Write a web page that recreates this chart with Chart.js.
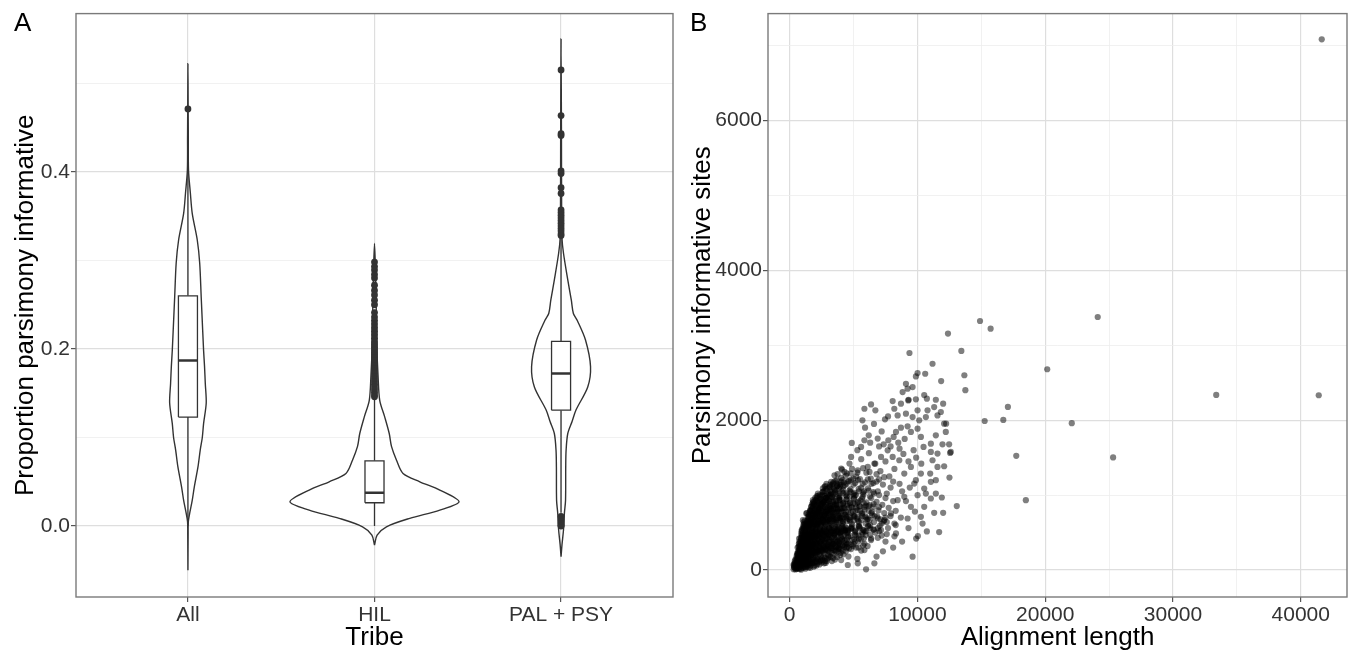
<!DOCTYPE html>
<html><head><meta charset="utf-8">
<script src="https://cdn.jsdelivr.net/npm/chart.js@4.4.1/dist/chart.umd.min.js"></script>
<style>
html,body{margin:0;padding:0;background:#fff;}
body{width:1351px;height:654px;position:relative;overflow:hidden;font-family:"Liberation Sans",Arial,sans-serif;}
canvas{position:absolute;top:0;}
#cA{left:0;} #cB{left:680px;}
.lab{position:absolute;font-size:26px;line-height:26px;color:#000;font-family:"Liberation Sans",Arial,sans-serif;}
</style></head><body>
<canvas id="cA" width="690" height="654"></canvas>
<canvas id="cB" width="671" height="654"></canvas>
<div class="lab" style="left:14px;top:9px">A</div>
<div class="lab" style="left:690px;top:9px">B</div>
<script>
// ---------------- Panel A data ----------------
const tribes = ['All', 'HIL', 'PAL + PSY'];

const violinAllY = [-0.050, -0.010, 0.005, 0.014, 0.029, 0.044, 0.067, 0.086, 0.100, 0.116, 0.139, 0.161, 0.180, 0.198, 0.240, 0.259, 0.297, 0.323, 0.353, 0.376, 0.402, 0.440, 0.480, 0.522];
const violinAllW = [0, 0.001, 0.002, 0.009, 0.023, 0.034, 0.054, 0.066, 0.077, 0.084, 0.098, 0.093, 0.089, 0.084, 0.075, 0.071, 0.063, 0.050, 0.023, 0.013, 0.003, 0.002, 0.001, 0];

const violinHilY = [-0.0214, -0.0102, -0.0008, 0.0087, 0.018, 0.0274, 0.0406, 0.050, 0.0594, 0.0744, 0.090, 0.1045, 0.123, 0.142, 0.170, 0.200, 0.250, 0.290, 0.319];
const violinHilW = [0, 0.014, 0.064, 0.189, 0.350, 0.453, 0.350, 0.243, 0.153, 0.118, 0.091, 0.079, 0.055, 0.028, 0.019, 0.013, 0.009, 0.005, 0];

const violinPalY = [-0.0346, -0.021, -0.0045, 0.0147, 0.029, 0.067, 0.0857, 0.1045, 0.118, 0.131, 0.157, 0.180, 0.210, 0.232, 0.240, 0.255, 0.278, 0.308, 0.325, 0.360, 0.450, 0.550];
const violinPalW = [0, 0.005, 0.013, 0.018, 0.024, 0.025, 0.027, 0.036, 0.059, 0.080, 0.143, 0.158, 0.131, 0.087, 0.066, 0.055, 0.036, 0.013, 0.005, 0.003, 0.002, 0];

const boxQ1 = [0.123, 0.0263, 0.1308];
const boxMedian = [0.187, 0.0376, 0.1722];
const boxQ3 = [0.260, 0.0737, 0.2086];
const whiskerLow = [0.0, 0.0, 0.015];
const whiskerHigh = [0.44, 0.144, 0.325];

const outliersAll = [0.471];
const outliersHil = [0.298, 0.293, 0.289, 0.284, 0.280, 0.272, 0.266, 0.261, 0.255, 0.250, 0.241, 0.236, 0.232, 0.228, 0.224, 0.220, 0.216, 0.212, 0.208, 0.205, 0.202, 0.199, 0.196, 0.193, 0.190, 0.187, 0.184, 0.181, 0.178, 0.175, 0.172, 0.169, 0.166, 0.163, 0.160, 0.157, 0.154, 0.151, 0.148, 0.146];
const outliersPal = [0.515, 0.4635, 0.443, 0.441, 0.401, 0.398, 0.382, 0.3755, 0.357, 0.354, 0.351, 0.348, 0.345, 0.342, 0.339, 0.336, 0.333, 0.330, 0.328, 0.011, 0.009, 0.007, 0.005, 0.003, 0.001, 0.0];

const yMajorA = [0, 0.2, 0.4];
const yMinorA = [0.1, 0.3, 0.5];

// ---------------- Panel B data: [alignment length, parsimony informative sites] ----------------
const coreGenes1 = [
[310,12],[380,35],[450,8],[520,48],[590,22],[660,55],[730,15],[810,40],[890,5],[960,62],[1040,28],[1130,50],[1230,18],[1350,70],[1480,35],[1650,60],[1880,45],[2150,85],[2500,100],[2900,120],
[420,95],[520,130],[610,105],[700,150],[790,88],[870,140],[950,110],[1040,160],[1130,120],[1220,155],[1330,100],[1450,145],[1570,115],[1700,165],[1850,130],[2000,170],[2200,140],[2450,180],[2750,160],[3100,190],[3500,210],[4000,230],[4600,180],[5300,150],[5980,10],
[550,190],[650,240],[760,200],[860,255],[960,215],[1060,260],[1160,195],[1270,245],[1380,210],[1500,262],[1620,225],[1750,270],[1880,230],[2020,280],[2170,240],[2330,290],[2500,250],[2680,300],[2870,260],[3080,310],[3300,270],[3550,320],[3800,280],[4100,330],[4450,290],[4800,340],[5200,300],[5600,260],[6100,320],
[720,350],[830,310],[940,370],[1050,320],[1160,380],[1270,330],[1390,390],[1510,340],[1640,395],[1770,350],[1910,400],[2060,355],[2210,410],[2370,360],[2540,415],[2720,370],[2900,420],[3090,375],[3290,430],[3500,385],[3720,440],[3950,395],[4200,450],[4460,400],[4750,455],[5050,410],[5400,460],[5800,420],[6300,470],[6900,430],[7500,380],
[910,430],[1020,490],[1130,440],[1250,500],[1370,450],[1490,510],[1620,460],[1760,520],[1900,470],[2050,530],[2200,480],[2360,540],[2520,490],[2690,545],[2870,500],[3060,555],[3250,505],[3450,560],[3660,515],[3880,570],[4110,520],[4350,575],[4600,525],[4870,580],[5150,530],[5450,585],[5780,535],[6150,590],[6550,540],[7000,520],[7600,480],[8200,450],
[1030,560],[1140,620],[1260,575],[1380,635],[1510,585],[1640,645],[1780,595],[1930,655],[2080,605],[2240,660],[2400,615],[2570,670],[2750,625],[2940,680],[3130,630],[3330,690],[3540,640],[3760,695],[3990,650],[4230,700],[4480,655],[4740,705],[5010,660],[5300,710],[5600,665],[5920,715],[6260,670],[6650,720],[7100,675],[7600,640],[8300,600],
[1430,710],[1560,770],[1700,720],[1850,780],[2000,730],[2160,790],[2330,740],[2500,800],[2680,750],[2870,810],[3060,760],[3260,815],[3470,765],[3690,820],[3920,770],[4160,825],[4410,775],[4670,830],[4940,780],[5220,835],[5520,785],[5840,840],[6180,790],[6550,845],[6950,795],[7400,760],[7900,720],
[1700,850],[1860,910],[2030,860],[2200,920],[2380,870],[2570,925],[2770,875],[2980,930],[3200,880],[3430,935],[3670,885],[3920,940],[4180,890],[4450,945],[4730,895],[5020,950],[5330,900],[5660,955],[6000,905],[6380,960],[6800,910],[7250,870],[7750,830],[8300,790],
[2110,985],[2500,995],[2710,1055],[2930,1005],[3160,1060],[3400,1010],[3650,1070],[3910,1020],[4180,1075],[4460,1025],[4760,1080],[5070,1030],[5400,1085],[5750,1035],[6130,1090],[6550,1040],[7000,1000],[7500,960],[8100,920],
[2790,1120],[3300,1130],[3570,1190],[3850,1140],[4150,1200],[4460,1150],[4790,1205],[5130,1160],[5500,1215],[5900,1170],[6350,1220],[6800,1180],[7300,1140],[7900,1100],
[3750,1280],[4100,1340],[4480,1290],[4880,1350],[5300,1300],[5750,1360],[6250,1310],[6800,1280],[7400,1240]
];
const coreGenes2 = [
[340,60],[480,45],[560,90],[640,70],[720,105],[800,75],[880,120],[970,85],[1070,130],[1180,95],[1300,140],[1430,105],[1560,150],[1700,115],[1860,160],[2030,125],[2220,170],[2430,135],[2660,180],[2910,150],[3200,175],[3550,140],[3950,200],[4400,250],
[580,220],[680,180],[790,235],[900,190],[1010,245],[1120,200],[1240,255],[1360,210],[1490,265],[1620,220],[1760,275],[1910,230],[2070,285],[2240,240],[2420,295],[2610,250],[2810,305],[3020,260],[3250,315],[3490,270],[3750,325],[4030,280],[4330,335],[4650,290],[5000,345],[5400,300],[5850,350],
[790,290],[900,345],[1010,300],[1130,355],[1250,310],[1380,365],[1510,320],[1650,375],[1800,330],[1960,385],[2120,340],[2290,395],[2470,350],[2660,405],[2860,360],[3070,415],[3290,370],[3520,425],[3760,380],[4020,435],[4290,390],[4580,445],[4890,400],[5220,455],[5570,410],[5950,465],[6380,420],
[890,410],[1000,465],[1120,420],[1240,475],[1370,430],[1500,485],[1640,440],[1790,495],[1940,450],[2100,505],[2270,460],[2450,515],[2630,470],[2830,525],[3030,480],[3250,535],[3470,490],[3710,545],[3960,500],[4220,555],[4500,510],[4790,565],[5100,520],[5430,575],[5780,530],[6160,585],[6580,540],[7050,590],
[990,520],[1100,580],[1220,535],[1350,595],[1480,550],[1620,610],[1770,565],[1920,625],[2080,580],[2250,640],[2420,595],[2610,655],[2800,610],[3000,670],[3210,625],[3430,685],[3660,640],[3900,700],[4150,655],[4420,715],[4700,670],[4990,730],[5300,685],[5640,745],[6000,700],[6400,760],[6850,715],
[1380,655],[1520,715],[1660,670],[1810,730],[1970,685],[2130,745],[2300,700],[2480,760],[2670,715],[2870,775],[3080,730],[3300,790],[3530,745],[3770,805],[4020,760],[4290,820],[4570,775],[4860,835],[5170,790],[5500,850],[5860,805],[6250,865],
[1650,795],[1810,855],[1980,810],[2160,870],[2340,825],[2540,885],[2740,840],[2950,900],[3170,855],[3400,915],[3640,870],[3890,930],[4150,885],[4430,945],[4720,900],[5030,960],[5360,915],[5710,975],
[2010,930],[2200,990],[2400,945],[2610,1005],[2830,960],[3060,1020],[3300,975],[3550,1035],[3810,990],[4080,1050],[4370,1000],[4680,1060],[5000,1015],
[2930,1085],[3170,1140],[3420,1100],[3680,1155],[3950,1115],[4240,1170]
];
const coreGenes3 = [
[400,120],[500,75],[600,150],[700,95],[800,170],[900,130],[1000,190],[1100,150],[1200,210],[1310,170],[1420,230],[1540,190],[1670,250],[1800,210],[1940,270],[2090,230],[2250,290],[2420,250],[2600,310],[2790,270],[2990,330],[3200,290],[3420,350],[3650,310],[3900,370],[4160,330],
[700,310],[810,270],[920,330],[1030,290],[1150,350],[1270,310],[1400,370],[1530,330],[1670,390],[1820,350],[1970,410],[2130,370],[2300,430],[2480,390],[2670,450],[2870,410],[3080,470],[3300,430],[3530,490],[3770,450],[4020,510],[4290,470],[4570,530],
[860,380],[970,450],[1080,395],[1200,465],[1320,410],[1450,480],[1590,425],[1730,495],[1880,440],[2040,510],[2200,455],[2380,525],[2560,470],[2750,540],[2950,485],[3160,555],[3380,500],[3610,570],[3850,515],[4100,585],[4370,530],
[1070,600],[1190,660],[1310,615],[1440,675],[1580,630],[1720,690],[1870,645],[2030,705],[2200,660],[2370,720],[2560,675],[2750,735],[2950,690],[3160,750],[3380,705],[3610,765],[3850,720],[4100,780],[4360,735],
[1570,735],[1720,795],[1880,750],[2040,810],[2210,765],[2390,825],[2580,780],[2780,840],[2990,795],[3210,855],[3440,810],[3680,870],[3930,825],
[1880,875],[2060,935],[2250,890],[2450,950],[2650,905],[2870,965],[3100,920],[3340,980]
];
const coreGenes4 = [
[360,85],[470,20],[590,58],[690,30],[760,78],[860,18],[930,92],[1010,45],[1110,85],[1190,40],[1280,98],[1400,55],[1520,88],[1610,30],[1760,95],[1940,60],[2080,110],[2330,75],[2600,130],[2820,95],[3300,120],[3700,175],
[620,205],[720,260],[830,215],[910,280],[1090,230],[1200,285],[1320,240],[1440,295],[1580,250],[1700,300],[1830,255],[1990,310],[2140,265],[2300,320],[2460,275],[2640,330],[2830,285],[3030,340],[3230,295],[3440,350],[3670,300],[3900,345],[4280,310],[4600,360],[4950,320],[5350,380],[5750,330],
[760,380],[850,430],[980,395],[1090,450],[1210,400],[1330,460],[1460,415],[1580,470],[1710,425],[1850,480],[2000,435],[2150,490],[2320,445],[2490,500],[2680,455],[2860,510],[3060,465],[3270,520],[3490,475],[3720,530],[3970,485],[4230,540],[4520,495],[4830,550],[5150,505],[5500,560],[5900,515],[6300,555],[6700,500],[7200,460],
[960,540],[1070,550],[1180,600],[1290,560],[1410,620],[1540,570],[1680,630],[1820,580],[1970,640],[2130,590],[2290,650],[2460,600],[2640,660],[2830,610],[3030,670],[3240,620],[3460,680],[3690,630],[3930,690],[4180,640],[4450,700],[4730,650],[5030,710],[5350,660],[5690,720],[6050,670],[6450,730],[6900,690],[7350,650],
[1480,740],[1620,790],[1770,745],[1930,800],[2090,755],[2270,815],[2450,770],[2640,830],[2840,785],[3050,845],[3270,800],[3500,860],[3740,815],[3990,875],[4260,830],[4540,880],[4830,840],[5140,880],[5460,850],[5800,890],[6170,850],[6580,880],[7000,840],
[1820,900],[1990,960],[2170,915],[2350,975],[2550,930],[2750,990],[2960,945],[3180,1000],[3420,955],[3660,1015],[3920,970],[4190,1030],[4470,985],[4770,1040],[5090,995],[5420,1050],[5780,1010],[6180,1060],[6600,1020],
[2600,1090],[2880,1150],[3140,1110],[3430,1170],[3720,1120],[4020,1180],[4330,1130],[4650,1190],[4990,1140],[5350,1200],[5720,1150],[6120,1210],[6550,1160],[7000,1210]
];
const coreGenes5 = [
[330,40],[430,70],[540,20],[620,110],[740,55],[840,100],[920,60],[1020,100],[1160,75],[1260,125],[1380,85],[1500,125],[1640,90],[1790,140],[1960,100],[2120,150],[2300,110],[2520,155],[2780,120],[3050,165],[3380,160],[3800,250],
[530,160],[640,200],[750,170],[850,215],[960,180],[1070,225],[1190,185],[1310,230],[1440,195],[1570,240],[1710,200],[1860,245],[2010,205],[2170,255],[2340,215],[2520,265],[2700,225],[2900,275],[3110,240],[3330,290],[3580,250],[3850,300],[4150,260],[4500,310],
[750,320],[870,290],[980,340],[1100,300],[1220,345],[1340,305],[1470,355],[1600,310],[1740,360],[1890,320],[2040,370],[2200,325],[2370,375],[2550,335],[2740,385],[2940,340],[3150,395],[3370,350],[3600,405],[3850,360],[4110,410],[4400,365],
[940,470],[1050,420],[1170,485],[1290,435],[1420,495],[1550,445],[1690,505],[1840,455],[1990,515],[2150,465],[2320,525],[2500,475],[2690,535],[2890,485],[3100,545],[3320,495],[3550,555],[3800,505],[4060,565],[4340,515],
[1120,560],[1240,620],[1360,580],[1490,640],[1630,595],[1780,655],[1940,610],[2100,670],[2280,625],[2460,685],[2660,640],[2860,700],[3080,655],[3300,715],[3540,670],[3790,730],[4050,685],
[1500,690],[1640,750],[1790,705],[1950,765],[2120,720],[2300,780],[2490,735],[2690,795],[2900,750],[3120,810],[3360,765],[3600,825],
[1760,820],[1920,880],[2090,835],[2270,895],[2460,850],[2660,910],[2870,865],[3090,925]
];
const coreGenes6 = [
[450,140],[560,110],[680,130],[770,230],[880,175],[990,260],[1050,200],[1150,310],[1230,270],[1340,180],[1410,330],[1470,250],[1560,380],[1630,300],[1690,430],[1780,330],[1850,520],[1920,380],[2000,590],[2060,440],[2150,620],[2230,500],[2290,710],[2380,560],[2450,440],[2530,640],[2600,520],[2690,720],[2760,580],[2850,470],[2920,650],[3010,760],[3080,560],[3150,680],[3240,820],[3310,600],[3390,720],[3470,520],[3560,880],[3630,660],[3720,780],[3800,580],[3890,940],[3960,700],[4050,820],[4140,620],[4230,900],[4320,740],[4410,560],[4500,860],[4600,680],[4700,980],[4790,760],[4880,610],[4980,890],[5080,720],[5190,1000],[5300,800],[5420,640],[5540,930],[5680,760],[5820,1050],[5960,860],[6120,680],[6280,980],[6450,780],
[620,300],[740,420],[860,320],[930,520],[1020,380],[1100,640],[1180,470],[1260,560],[1350,760],[1420,520],[1500,660],[1600,800],[1680,560],[1760,880],[1850,700],[1950,860],[2040,760],[2140,960],[2240,820],[2350,1000],[2460,880],[2580,1040],[2700,920],[2830,1080],[2960,970],[3100,1100],[3240,1020],[3390,1150],[3540,1060],[3700,1200],[3860,1090],[4030,1230],[4200,1120],[4390,1260],[4580,1180],[4780,1290],[4990,1220],
[300,70],[1300,40],[1500,70],[1800,90],[2100,60],[2400,120],[2700,90],[3000,200],[3300,230],[3600,260],[3900,280],[4200,210],[4500,350],[4800,280],[5100,380],[5400,420],[5700,480],[6000,520],[6300,600],[6600,640],[6900,560],[7200,620],[7500,700]
];
const coreGenes7 = [
[650,160],[720,270],[790,190],[860,330],[940,240],[1010,390],[1080,270],[1150,430],[1220,330],[1300,490],[1370,370],[1450,560],[1520,420],[1600,600],[1670,470],[1750,650],[1830,510],[1910,700],[1990,560],[2070,760],[2160,600],[2250,800],[2340,640],[2430,850],[2520,690],[2620,900],[2720,730],[2820,960],[2930,780],[3040,1000],[3150,830],[3260,1040],[3380,870],[3500,1080],[3620,920],[3740,1120],[3860,960],[3990,1140],
[1000,120],[1100,220],[1210,140],[1330,260],[1450,170],[1580,290],[1710,200],[1850,320],[1990,230],[2140,350],[2290,260],[2450,380],[2610,290],[2780,410],[2950,320],[3130,440],[3310,350],[3500,470],[3700,380],[3910,500],[4130,410],[4360,530],[4600,440],[4850,560],[5110,470],[5380,590],[5660,500],[5950,620]
];
const spreadGenes = [
[4862,1696],[4810,1510],[5590,1643],[5850,1732],[6188,1798],[6890,1754],[7358,1678],[7722,1732],[8138,1776],[8320,1843],[8710,1900],[9230,1918],[9490,1843],[10010,1887],[10270,1776],[10478,1643],[11050,1576],[11180,1465],[11570,1376],[10998,1288],[10270,1288],[9750,1154],[10010,999],[10660,1021],[11050,955],[11440,1021],[10530,844],[10270,710],[9230,688],[9490,844],[8970,977],[8450,932],[7930,755],[7410,666],[7150,533],[8320,488],[6370,400],[5850,266],[5330,89],[6630,89],[4550,67],[4030,133],
[9100,2486],[9230,2420],[9620,2442],[8840,2375],[9282,2264],[8710,2220],[8190,2153],[8450,2064],[9100,2087],[9620,2042],[10010,2131],[10140,1998],[10660,2042],[10790,2131],[11310,2175],[11570,2064],[11830,2109],[12090,1953],[12220,1843],[11440,1798],[11050,1687],[11570,1554],[11960,1678],[12480,1678],[12610,1576],[12090,1385],[11440,1199],[11050,1177],[10530,1088],[9880,1199],[9490,1376],[8970,1288],[8580,1465],[8060,1510],[7670,1598],[7150,1510],[6630,1421],[6110,1376],[5330,1332],[4680,1421],[4290,1310],[4030,1354],[3510,1265],[3250,1177],[2730,1110],[2600,1044],[2210,1021],[1820,932],[1690,844],[1300,755],[1040,666],[910,488],[780,355],[650,222],
[5850,2153],[6370,2211],[6708,2131],[5694,1998],[7462,2011],[8060,2255],
[9620,178],[10036,453],[10738,515],[11700,506],[12012,764],[11310,764],[11908,968],[12506,1234],[12558,1563],[12246,1954],[12012,2220],[11440,2273],[10738,2287],[10530,2335],[9880,2278],[9308,2273],[10010,2629],[9880,2584],[10608,2620],[11180,2753],[11856,2522],[9375,2897],[13078,853],
[5200,1250],[5600,1100],[6000,1300],[6400,1150],[6700,1420],[7100,1320],[7500,1450],[7800,1250],[8200,1350],[8600,1150],[8900,1550],[9300,1450],[9700,1600],[6900,1050],[7600,1020],[8100,1180],[8800,1050],[9400,1100],[5600,1480],[6200,1560],[7000,1650],[7900,1650],[8500,1700],[9000,1750],[6300,1700],[5300,1600],[5900,1900],[6600,1950],[7200,1850],[7700,2050],[8600,1620],[9900,1500],[10300,1420],[9100,920],[9800,780],[8700,700],[8200,620],[7700,560],[9300,560],[8800,380],[8100,300],[7300,250],[6800,180],[10400,620],[9900,420]
];
const outlierGenes = [
[14898,3324],[15727,3222],[12390,3156],[13437,2924],[13750,2400],[13672,2600],[15262,1989],[16719,2004],[17078,2177],[17734,1524],[18484,933],[20156,2680],[22078,1960],[24109,3377],[25313,1503],[33383,2337],[41406,2333],[41641,7084]
];

const xMajorB = [0, 10000, 20000, 30000, 40000];
const xMinorB = [5000, 15000, 25000, 35000];
const yMajorB = [0, 2000, 4000, 6000];
const yMinorB = [1000, 3000, 5000, 7000];

// ---------------- helpers ----------------
const FONT = '"Liberation Sans", Arial, sans-serif';
const BOX_HALF = 0.051;

const framePlugin = {
  id: 'frame',
  afterDraw(chart) {
    const { ctx, chartArea: a } = chart;
    ctx.save();
    ctx.strokeStyle = '#7a7a7a';
    ctx.lineWidth = 1.4;
    ctx.strokeRect(a.left, a.top, a.right - a.left, a.bottom - a.top);
    ctx.restore();
  }
};

function axis(opts) {
  const all = opts.major.concat(opts.minor).sort((a, b) => a - b);
  const isMajor = (ctx) => ctx.tick && opts.major.includes(ctx.tick.value);
  return {
    type: 'linear',
    min: opts.min, max: opts.max,
    afterBuildTicks: (s) => { s.ticks = all.map(v => ({ value: v })); },
    afterFit: (s) => { if (opts.width !== undefined) s.width = opts.width; if (opts.height !== undefined) s.height = opts.height; },
    border: { display: false },
    grid: {
      drawOnChartArea: true, drawTicks: true, tickLength: 5,
      color: (c) => isMajor(c) ? '#dedede' : '#ededed',
      lineWidth: (c) => isMajor(c) ? 1.2 : 0.8,
      tickColor: (c) => isMajor(c) ? '#555' : 'rgba(0,0,0,0)',
      tickWidth: 1.2
    },
    ticks: {
      autoSkip: false, maxRotation: 0, minRotation: 0, padding: opts.tickPad,
      color: '#333', font: { family: FONT, size: 21 },
      callback: (v) => opts.major.includes(v) ? opts.fmt(v) : ''
    },
    title: {
      display: true, text: opts.title, color: '#000',
      font: { family: FONT, size: 26 },
      padding: opts.titlePad
    }
  };
}

// ---------------- Panel A datasets ----------------
function violinPath(c, ys, ws) {
  const right = ys.map((y, i) => ({ x: c + ws[i], y }));
  const left = ys.map((y, i) => ({ x: c - ws[i], y })).reverse();
  return right.concat(left.slice(1));
}
const lineDs = (data, width, order) => ({
  data, showLine: true, borderColor: '#333', borderWidth: width, pointRadius: 0, fill: false, tension: 0, order
});

const dsA = [];
const violins = [[violinAllY, violinAllW], [violinHilY, violinHilW], [violinPalY, violinPalW]];
violins.forEach(([ys, ws], i) => {
  const d = lineDs(violinPath(i + 1, ys, ws), 1.4, 4);
  d.tension = 0.3;
  dsA.push(d);
});
tribes.forEach((t, i) => {
  const c = i + 1;
  dsA.push(lineDs([{ x: c, y: whiskerLow[i] }, { x: c, y: boxQ1[i] }], 1.3, 3));
  dsA.push(lineDs([{ x: c, y: boxQ3[i] }, { x: c, y: whiskerHigh[i] }], 1.3, 3));
  const box = lineDs([
    { x: c - BOX_HALF, y: boxQ1[i] }, { x: c + BOX_HALF, y: boxQ1[i] },
    { x: c + BOX_HALF, y: boxQ3[i] }, { x: c - BOX_HALF, y: boxQ3[i] },
    { x: c - BOX_HALF, y: boxQ1[i] }], 1.3, 2);
  box.fill = 'shape'; box.backgroundColor = '#fff';
  dsA.push(box);
  dsA.push(lineDs([{ x: c - BOX_HALF, y: boxMedian[i] }, { x: c + BOX_HALF, y: boxMedian[i] }], 2.6, 1));
});
[outliersAll, outliersHil, outliersPal].forEach((arr, i) => {
  dsA.push({
    data: arr.map(v => ({ x: i + 1, y: v })),
    pointRadius: 3.4, pointBackgroundColor: '#333', pointBorderWidth: 0, showLine: false, order: 0
  });
});

new Chart(document.getElementById('cA'), {
  type: 'scatter',
  data: { datasets: dsA },
  options: {
    responsive: false, animation: false, devicePixelRatio: 1, events: [],
    layout: { padding: { left: 0, top: 13, right: 17, bottom: 0 } },
    plugins: { legend: { display: false }, tooltip: { enabled: false } },
    scales: {
      x: axis({ min: 0.4, max: 3.6, major: [1, 2, 3], minor: [], fmt: (v) => tribes[v - 1],
                title: 'Tribe', height: 57, tickPad: 1, titlePad: { top: 0, bottom: 1 } }),
      y: axis({ min: -0.0801, max: 0.5786, major: yMajorA, minor: yMinorA, fmt: (v) => v.toFixed(1),
                title: 'Proportion parsimony informative', width: 76, tickPad: 1, titlePad: { top: 10, bottom: 0 } })
    }
  },
  plugins: [framePlugin]
});

// ---------------- Panel B ----------------
const scatterData = coreGenes1.concat(coreGenes2, coreGenes3, coreGenes4, coreGenes5, coreGenes6, coreGenes7, spreadGenes, outlierGenes)
  .map(p => ({ x: p[0], y: p[1] }));

new Chart(document.getElementById('cB'), {
  type: 'scatter',
  data: { datasets: [{
    data: scatterData, pointRadius: 3.1, pointBackgroundColor: 'rgba(0,0,0,0.5)', pointBorderWidth: 0
  }] },
  options: {
    responsive: false, animation: false, devicePixelRatio: 1, events: [],
    layout: { padding: { left: 0, top: 13, right: 3, bottom: 0 } },
    plugins: { legend: { display: false }, tooltip: { enabled: false } },
    scales: {
      x: axis({ min: -1695, max: 43617, major: xMajorB, minor: xMinorB, fmt: (v) => String(v),
                title: 'Alignment length', height: 57, tickPad: 1, titlePad: { top: 0, bottom: 1 } }),
      y: axis({ min: -360, max: 7427, major: yMajorB, minor: yMinorB, fmt: (v) => String(v),
                title: 'Parsimony informative sites', width: 88, tickPad: 1, titlePad: { top: 7, bottom: 0 } })
    }
  },
  plugins: [framePlugin]
});
</script></body></html>
